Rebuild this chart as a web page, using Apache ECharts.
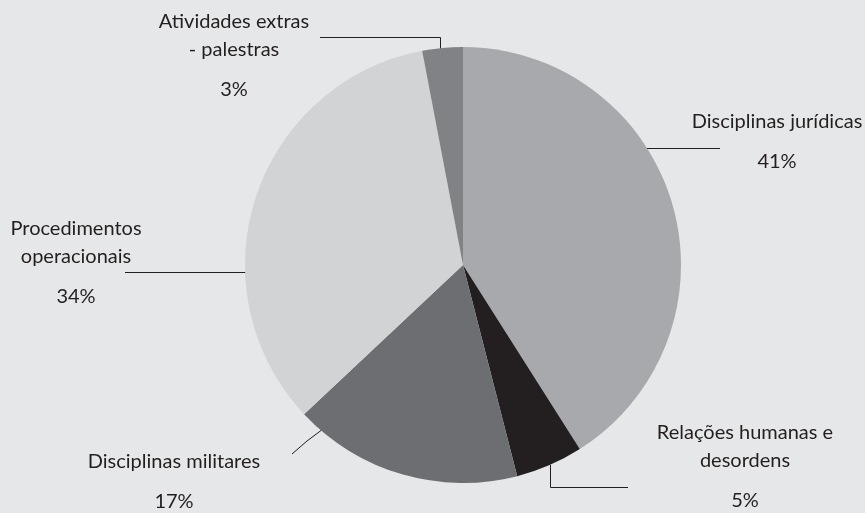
<!DOCTYPE html>
<html>
<head>
<meta charset="utf-8">
<script src="https://cdn.jsdelivr.net/npm/echarts@6/dist/echarts.min.js"></script>
<style>
html,body{margin:0;padding:0;background:#e6e7e8;}
#chart{width:865px;height:513px;}
</style>
</head>
<body>
<div id="chart"></div>
<script>
// Data
var categories = [
  'Disciplinas jurídicas',
  'Relações humanas e\ndesordens',
  'Disciplinas militares',
  'Procedimentos\noperacionais',
  'Atividades extras\n- palestras'
];
var values = [41, 5, 17, 34, 3];

// Styling / layout (kept separate from data)
var sliceColors = ['#a7a9ac', '#231f20', '#6d6e71', '#d1d3d4', '#808285'];
var labelLayouts = [
  { x: 777, y: 148, line: [[646, 148.5], [683, 148.5], [720, 148.5]] },
  { x: 745, y: 473, line: [[550.5, 465], [550.5, 487.5], [628, 487.5]] },
  { x: 174, y: 488, line: [[323, 429], [307, 441], [292, 454]] },
  { x: 76,  y: 269, line: [[248, 272.5], [186, 272.5], [125, 272.5]] },
  { x: 234, y: 62,  line: [[440.5, 50], [440.5, 37.5], [320, 37.5]] }
];

var chart = echarts.init(document.getElementById('chart'), null, { renderer: 'canvas' });
var data = categories.map(function (c, i) {
  return { name: c, value: values[i], itemStyle: { color: sliceColors[i] } };
});

chart.setOption({
  backgroundColor: '#e6e7e8',
  animation: false,
  series: [{
    type: 'pie',
    center: [463, 265],
    radius: 218,
    startAngle: 90,
    clockwise: true,
    avoidLabelOverlap: false,
    data: data,
    itemStyle: { borderWidth: 0 },
    emphasis: { disabled: true },
    label: {
      show: true,
      position: 'outside',
      color: '#231f20',
      fontFamily: 'Lato',
      fontSize: 20,
      formatter: function (p) {
        var lines = p.name.split('\n').map(function (s) { return '{n|' + s + '}'; });
        return lines.join('\n') + '\n{p|' + p.value + '%}';
      },
      rich: {
        n: { fontFamily: 'Lato', fontSize: 20, color: '#231f20', lineHeight: 28, align: 'center' },
        p: { fontFamily: 'Lato', fontSize: 20, color: '#231f20', lineHeight: 52, align: 'center' }
      }
    },
    labelLine: {
      show: true,
      lineStyle: { color: '#231f20', width: 1 }
    },
    labelLayout: function (params) {
      var l = labelLayouts[params.dataIndex];
      return {
        x: l.x,
        y: l.y,
        align: 'center',
        verticalAlign: 'middle',
        labelLinePoints: l.line
      };
    }
  }]
});
</script>
</body>
</html>
